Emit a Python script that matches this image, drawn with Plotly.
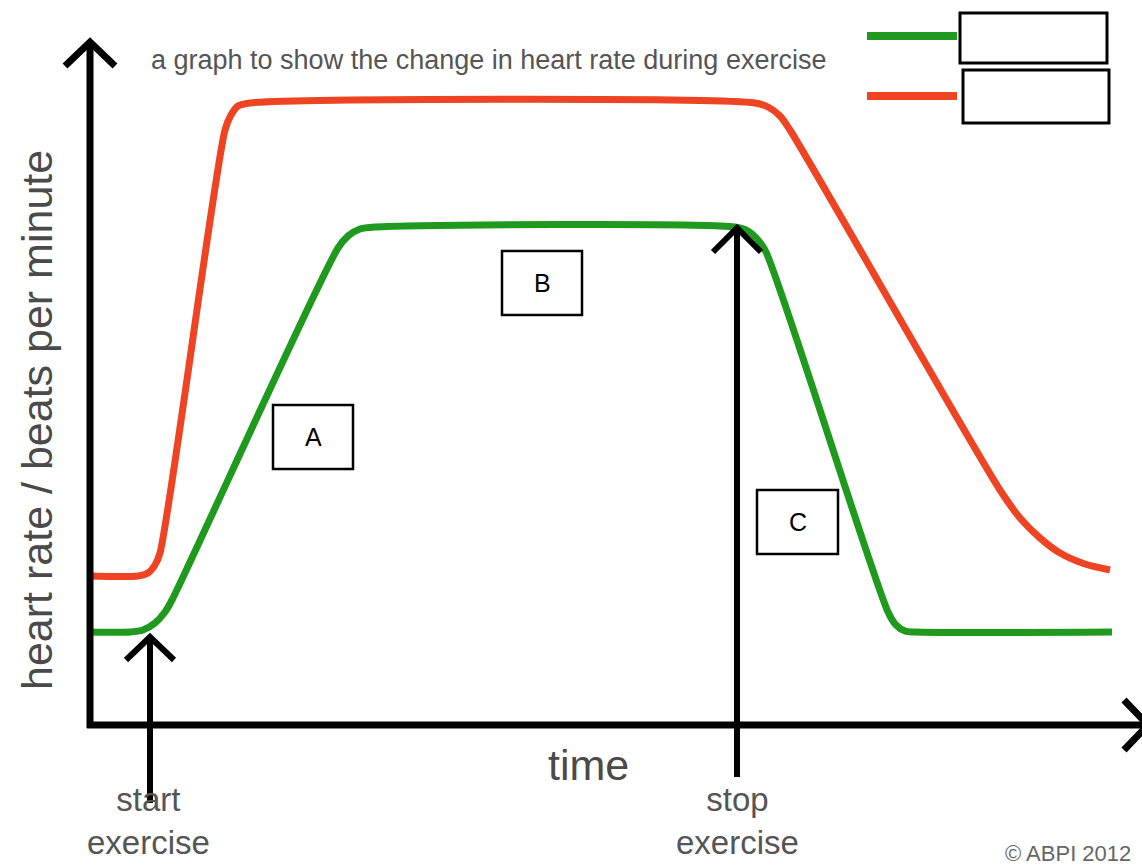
import plotly.graph_objects as go

# ---- data (arbitrary units: time, heart rate) ----
time_green = [0.0, 4.0, 5.3, 6.5, 7.5, 8.2, 24.8, 25.8, 27.0, 28.5, 64.5, 65.8, 66.8, 67.6, 79.8, 80.6, 81.5, 82.5, 102.2]
hr_green = [18.6, 18.6, 19.0, 20.4, 22.6, 25.0, 95.4, 97.8, 99.2, 99.6, 99.6, 98.8, 97.0, 94.6, 22.6, 20.0, 18.8, 18.6, 18.6]

time_red = [0.0, 4.8, 5.8, 6.5, 7.0, 13.5, 14.1, 14.8, 16.0, 66.5, 67.8, 69.0, 70.0, 91.0, 93.0, 95.0, 97.0, 99.5, 102.0]
hr_red = [29.8, 29.8, 30.4, 32.0, 34.4, 119.0, 122.0, 123.8, 124.4, 124.4, 123.6, 121.8, 119.0, 47.0, 41.4, 37.4, 34.4, 32.2, 31.0]

start_time = 6.0
stop_time = 64.7

title_text = "a graph to show the change in heart rate during exercise"
y_label = "heart rate / beats per minute"
x_label = "time"
box_labels = ["A", "B", "C"]

# ---- layout helpers (pixel -> data) ----
W, H = 1142, 866
X0, XS, Y0, YS = 90.0, 10.0, 725.0, 5.0


def tx(px):
    return (px - X0) / XS


def hy(py):
    return (Y0 - py) / YS


GREEN = "#1f9a1f"
RED = "#ef4423"

fig = go.Figure()
fig.add_trace(go.Scatter(x=time_green, y=hr_green, mode="lines",
                         line=dict(color=GREEN, width=7, shape="spline", smoothing=0.8),
                         hoverinfo="skip", showlegend=False))
fig.add_trace(go.Scatter(x=time_red, y=hr_red, mode="lines",
                         line=dict(color=RED, width=7, shape="spline", smoothing=0.8),
                         hoverinfo="skip", showlegend=False))

shapes = []


def line(x0, y0, x1, y1, w=7, color="black"):
    shapes.append(dict(type="line", xref="x", yref="y", x0=tx(x0), y0=hy(y0), x1=tx(x1), y1=hy(y1),
                       line=dict(color=color, width=w)))


def chevron(pts, w=7):
    d = "M " + " L ".join(f"{tx(a)},{hy(b)}" for a, b in pts)
    shapes.append(dict(type="path", xref="x", yref="y", path=d, line=dict(color="black", width=w)))


# axes
line(90, 728, 90, 44)
chevron([(65, 66), (90, 42), (115, 66)])
line(87, 725, 1146, 725)
chevron([(1124, 700), (1148, 725), (1124, 750)])

# start / stop arrows
sx = X0 + start_time * XS
line(sx, 803, sx, 640, w=6)
chevron([(126, 660), (sx, 637), (174, 660)], w=6)
ex = X0 + stop_time * XS
line(ex, 777, ex, 230, w=6)
chevron([(ex - 24, 252), (ex, 228), (ex + 24, 252)], w=6)

# legend
line(867, 36, 957, 36, w=8, color=GREEN)
line(867, 96, 957, 96, w=8, color=RED)
for (a, b, c, d) in [(960, 13, 1107, 63), (963, 70, 1109, 123)]:
    shapes.append(dict(type="rect", xref="x", yref="y", x0=tx(a), y0=hy(b), x1=tx(c), y1=hy(d),
                       line=dict(color="black", width=3), fillcolor="white"))

annotations = []
# boxes A, B, C
for lab, (a, b, c, d) in zip(box_labels, [(273, 405, 353, 469), (502, 251, 582, 315), (757, 490, 838, 554)]):
    shapes.append(dict(type="rect", xref="x", yref="y", x0=tx(a), y0=hy(b), x1=tx(c), y1=hy(d),
                       line=dict(color="black", width=2.5), fillcolor="white"))
    annotations.append(dict(x=tx((a + c) / 2), y=hy((b + d) / 2), xref="x", yref="y", text=lab,
                            showarrow=False, font=dict(family="Liberation Sans", size=25, color="black")))

annotations += [
    dict(x=tx(149), y=hy(60), xref="x", yref="y", xanchor="left", text=title_text, showarrow=False,
         font=dict(family="Liberation Sans", size=27, color="#555555")),
    dict(x=tx(37), y=hy(420), xref="x", yref="y", text=y_label, textangle=-90, showarrow=False,
         font=dict(family="Liberation Sans", size=43, color="#4a4a4a")),
    dict(x=tx(588), y=hy(765), xref="x", yref="y", text=x_label, showarrow=False,
         font=dict(family="Liberation Sans", size=43, color="#4a4a4a")),
    dict(x=tx(sx - 2), y=hy(821), xref="x", yref="y", text="start<br>exercise", showarrow=False,
         font=dict(family="Liberation Sans", size=33, color="#555555")),
    dict(x=tx(ex), y=hy(821), xref="x", yref="y", text="stop<br>exercise", showarrow=False,
         font=dict(family="Liberation Sans", size=33, color="#555555")),
    dict(x=tx(1003), y=hy(853), xref="x", yref="y", xanchor="left", text="© ABPI 2012", showarrow=False,
         font=dict(family="Liberation Sans", size=22, color="#666666")),
]

fig.update_layout(
    width=W, height=H,
    margin=dict(l=0, r=0, t=0, b=0),
    paper_bgcolor="white", plot_bgcolor="white",
    xaxis=dict(range=[tx(0), tx(W)], visible=False, fixedrange=True),
    yaxis=dict(range=[hy(H), hy(0)], visible=False, fixedrange=True),
    shapes=shapes, annotations=annotations,
    hovermode=False,
)

fig.write_html("out.html", config={"displayModeBar": False, "staticPlot": True},
               post_script="document.body.style.margin='0';document.body.style.overflow='hidden';")
